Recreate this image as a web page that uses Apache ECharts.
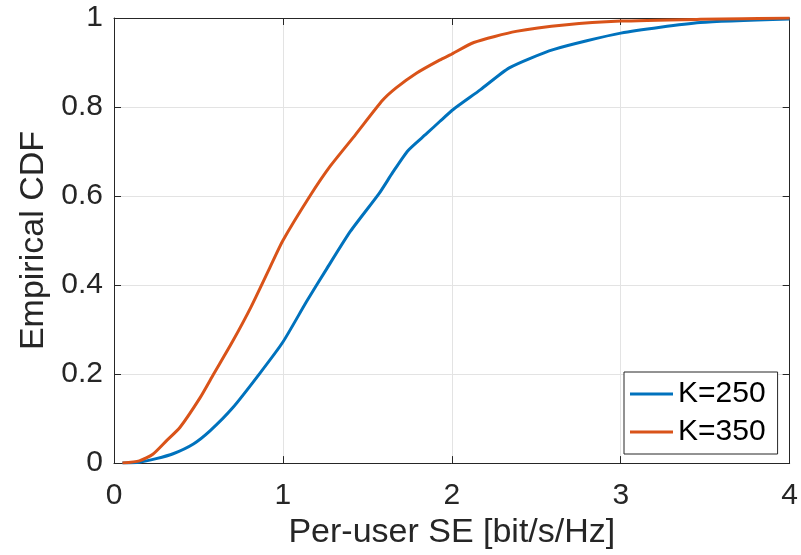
<!DOCTYPE html>
<html>
<head>
<meta charset="utf-8">
<script src="https://cdn.jsdelivr.net/npm/echarts@6/dist/echarts.min.js"></script>
<style>html,body{margin:0;padding:0;background:#fff;}#c{width:801px;height:555px;}</style>
</head>
<body>
<div id="c"></div>
<script>
const seriesNames = ['K=250', 'K=350'];
const k250X = [0.05, 0.15, 0.25, 0.35, 0.47, 0.57, 0.70, 0.86, 1.00, 1.14, 1.26, 1.40, 1.57, 1.65, 1.74, 1.85, 1.93, 2.01, 2.17, 2.34, 2.60, 3.00, 3.47, 4.00];
const k250Y = [0.000, 0.002, 0.010, 0.021, 0.043, 0.073, 0.123, 0.200, 0.272, 0.363, 0.437, 0.521, 0.606, 0.653, 0.702, 0.740, 0.768, 0.795, 0.839, 0.888, 0.929, 0.966, 0.990, 0.998];
const k350X = [0.05, 0.15, 0.23, 0.31, 0.39, 0.51, 0.59, 0.70, 0.81, 0.92, 1.00, 1.16, 1.28, 1.43, 1.59, 1.67, 1.79, 1.93, 1.99, 2.13, 2.38, 2.68, 3.00, 3.47, 4.00];
const k350Y = [0.000, 0.005, 0.020, 0.050, 0.080, 0.147, 0.200, 0.272, 0.350, 0.437, 0.500, 0.600, 0.667, 0.738, 0.815, 0.843, 0.876, 0.906, 0.917, 0.945, 0.970, 0.985, 0.993, 0.997, 1.000];
const xTicks = [0, 1, 2, 3, 4];
const yTicks = [0, 0.2, 0.4, 0.6, 0.8, 1];

const pair = (xs, ys) => xs.map((x, i) => [x, ys[i]]);
const font = 'Liberation Sans, Arial, Helvetica, sans-serif';
const axisColor = '#262626';

const chart = echarts.init(document.getElementById('c'));
chart.setOption({
  animation: false,
  backgroundColor: '#fff',
  grid: { left: 114, right: 11, top: 18, bottom: 89, containLabel: false },
  legend: {
    data: seriesNames,
    orient: 'vertical',
    left: 624, top: 372,
    padding: [7, 12, 7, 6],
    itemGap: 8,
    itemWidth: 43,
    itemHeight: 3,
    icon: 'rect',
    borderColor: axisColor,
    borderWidth: 1,
    backgroundColor: '#fff',
    borderRadius: 0,
    textStyle: { fontFamily: font, fontSize: 30, color: '#000' }
  },
  xAxis: [{
    type: 'value', min: 0, max: 4, interval: 1,
    name: 'Per-user SE [bit/s/Hz]', nameLocation: 'middle', nameGap: 45,
    nameTextStyle: { fontFamily: font, fontSize: 34, color: '#262626' },
    axisLine: { show: true, onZero: false, lineStyle: { color: axisColor, width: 1 } },
    axisTick: { show: true, inside: true, length: 7, lineStyle: { color: axisColor } },
    axisLabel: { fontFamily: font, fontSize: 30, color: '#262626', margin: 18, formatter: v => String(v) },
    splitLine: { show: true, lineStyle: { color: '#e3e3e3', width: 1 } }
  }, {
    type: 'value', min: 0, max: 4, interval: 1, position: 'top',
    axisLine: { show: true, onZero: false, lineStyle: { color: axisColor, width: 1 } },
    axisTick: { show: true, inside: true, length: 7, lineStyle: { color: axisColor } },
    axisLabel: { show: false }, splitLine: { show: false }
  }],
  yAxis: [{
    type: 'value', min: 0, max: 1, interval: 0.2,
    name: 'Empirical CDF', nameLocation: 'middle', nameGap: 60,
    nameTextStyle: { fontFamily: font, fontSize: 34, color: '#262626' },
    axisLine: { show: true, onZero: false, lineStyle: { color: axisColor, width: 1 } },
    axisTick: { show: true, inside: true, length: 7, lineStyle: { color: axisColor } },
    axisLabel: { fontFamily: font, fontSize: 30, color: '#262626', margin: 11, formatter: v => String(Math.round(v * 10) / 10) },
    splitLine: { show: true, lineStyle: { color: '#e3e3e3', width: 1 } }
  }, {
    type: 'value', min: 0, max: 1, interval: 0.2, position: 'right',
    axisLine: { show: true, onZero: false, lineStyle: { color: axisColor, width: 1 } },
    axisTick: { show: true, inside: true, length: 7, lineStyle: { color: axisColor } },
    axisLabel: { show: false }, splitLine: { show: false }
  }],
  series: [{
    name: seriesNames[0], type: 'line', xAxisIndex: 0, yAxisIndex: 0,
    data: pair(k250X, k250Y), symbol: 'none', smooth: 0.2,
    lineStyle: { color: '#0072BD', width: 3 }, itemStyle: { color: '#0072BD' }
  }, {
    name: seriesNames[1], type: 'line', xAxisIndex: 0, yAxisIndex: 0,
    data: pair(k350X, k350Y), symbol: 'none', smooth: 0.2,
    lineStyle: { color: '#D95319', width: 3 }, itemStyle: { color: '#D95319' }
  }]
});
</script>
</body>
</html>
